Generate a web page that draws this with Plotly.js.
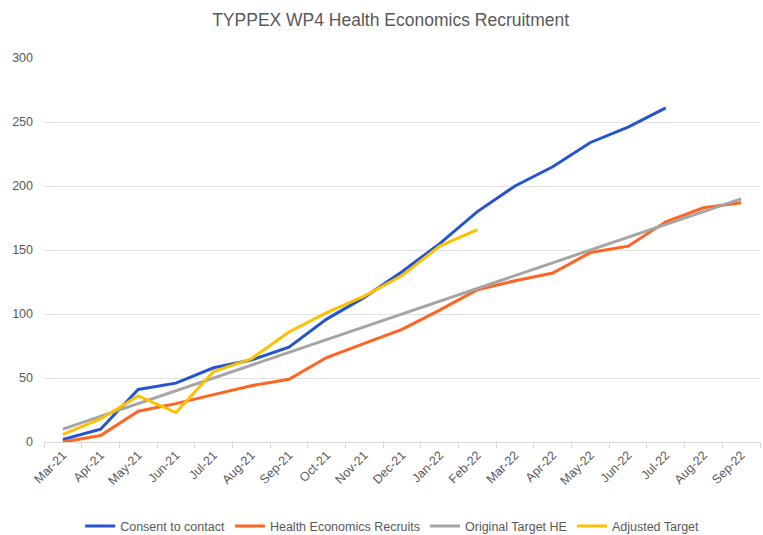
<!DOCTYPE html>
<html>
<head>
<meta charset="utf-8">
<script src="https://cdn.plot.ly/plotly-3.0.1.min.js"></script>
<style>html,body{margin:0;padding:0;background:#fff;}#chart{width:763px;height:535px;}</style>
</head>
<body>
<div id="chart"></div>
<script>
const months = ["Mar-21","Apr-21","May-21","Jun-21","Jul-21","Aug-21","Sep-21","Oct-21","Nov-21","Dec-21","Jan-22","Feb-22","Mar-22","Apr-22","May-22","Jun-22","Jul-22","Aug-22","Sep-22"];
const consentToContact = [2,10,41,46,58,64,74,96,113,133,155,180,200,215,234,246,261];
const healthEconomicsRecruits = [0,5,24,30,37,44,49,66,77,88,103,119,126,132,148,153,172,183,187];
const originalTargetHE = [10,20,30,40,50,60,70,80,90,100,110,120,130,140,150,160,170,180,190];
const adjustedTarget = [6,18,36,23,55,65,86,101,114,130,153,166];

const fontFam = "Liberation Sans, Arial, sans-serif";
const grey = "#595959";

function series(name, vals, color) {
  return {
    type: "scatter", mode: "lines", name: name,
    x: months.slice(0, vals.length), y: vals,
    line: {color: color, width: 3}
  };
}

const data = [
  series("Consent to contact", consentToContact, "#2454d0"),
  series("Health Economics Recruits", healthEconomicsRecruits, "#ff6420"),
  series("Original Target HE", originalTargetHE, "#a5a5a5"),
  series("Adjusted Target", adjustedTarget, "#ffc000")
];

const layout = {
  width: 763, height: 535,
  paper_bgcolor: "#fff", plot_bgcolor: "#fff",
  margin: {l: 44, r: 3, t: 58, b: 93},
  font: {family: fontFam, color: grey, size: 12},
  title: {text: "TYPPEX WP4 Health Economics Recruitment", x: 0.512, xanchor: "center", y: 0.962, yanchor: "middle",
          font: {family: fontFam, size: 17.5, color: grey}},
  xaxis: {
    type: "category", categoryorder: "array", categoryarray: months,
    range: [-0.5, 18.5], showgrid: false, zeroline: false,
    showline: true, linecolor: "#d9d9d9", linewidth: 1,
    ticks: "outside", tickson: "boundaries", ticklen: 5, tickcolor: "#d9d9d9",
    tickangle: -45, tickfont: {size: 12.5, color: grey}
  },
  yaxis: {
    range: [0, 300], tickvals: [0,50,100,150,200,250,300],
    showgrid: true, gridcolor: "#e3e3e3", gridwidth: 1, zeroline: false,
    showline: false, ticks: "", ticklabelstandoff: 10,
    tickfont: {size: 12.5, color: grey}
  },
  showlegend: true,
  legend: {orientation: "h", xref: "container", yref: "container", x: 0.514, xanchor: "center", y: 0.016, yanchor: "middle",
           font: {size: 12.5, color: grey}, itemwidth: 30, tracegroupgap: 0, bgcolor: "rgba(0,0,0,0)"}
};

Plotly.newPlot("chart", data, layout, {displayModeBar: false, staticPlot: true});
</script>
</body>
</html>
